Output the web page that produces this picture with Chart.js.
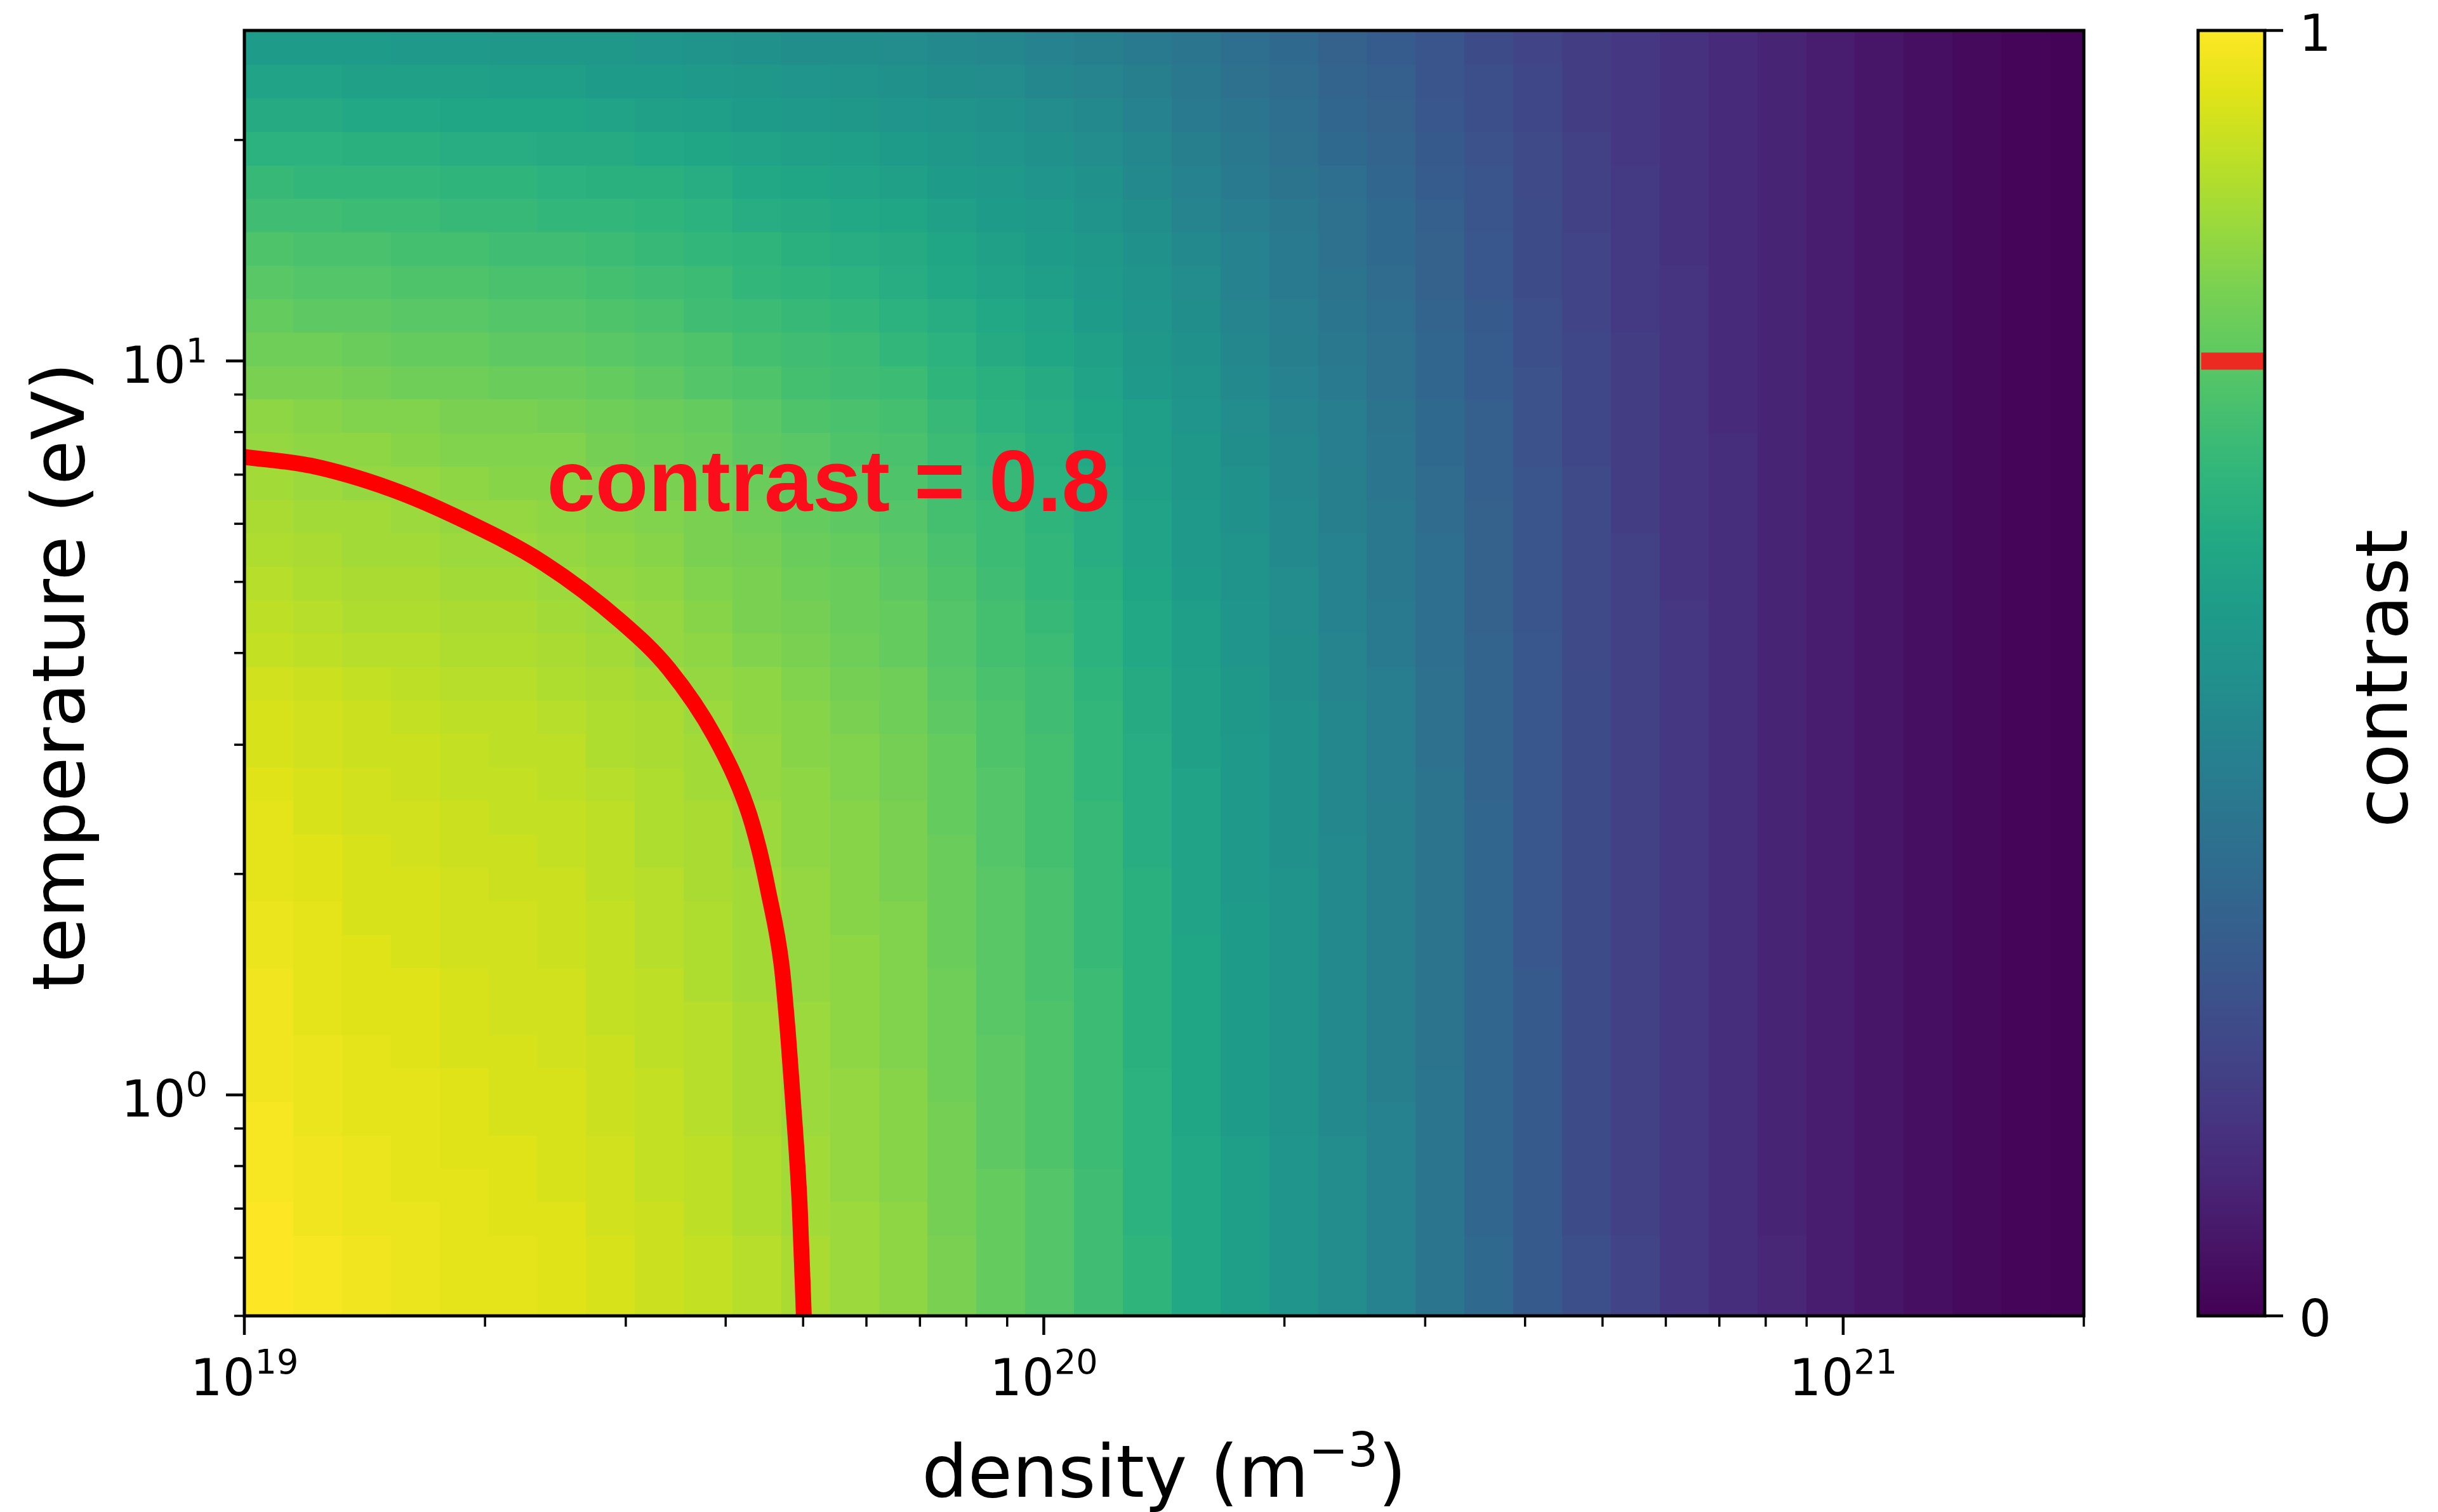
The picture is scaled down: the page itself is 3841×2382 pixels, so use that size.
<!DOCTYPE html>
<html>
<head>
<meta charset="utf-8">
<title>contrast map</title>
<script src="https://cdn.jsdelivr.net/npm/chart.js@4.4.0/dist/chart.umd.min.js"></script>
<style>
  html, body { margin: 0; padding: 0; background: #ffffff; }
  #wrap { position: relative; width: 3841px; height: 2382px; overflow: hidden; }
</style>
</head>
<body>
<div id="wrap"><canvas id="chart" width="3841" height="2382"></canvas></div>
<script>
// --- DATA ---
// cell edges of the map (density in m^-3, temperature in eV, top row first)
const densityEdges = [
  1.000e19, 1.151e19, 1.325e19, 1.525e19, 1.755e19, 2.020e19, 2.325e19, 2.675e19, 3.079e19, 3.544e19,
  4.079e19, 4.694e19, 5.403e19, 6.218e19, 7.156e19, 8.236e19, 9.480e19, 1.091e20, 1.256e20, 1.445e20,
  1.663e20, 1.915e20, 2.204e20, 2.536e20, 2.919e20, 3.360e20, 3.867e20, 4.450e20, 5.122e20, 5.895e20,
  6.785e20, 7.809e20, 8.988e20, 1.034e21, 1.190e21, 1.370e21, 1.577e21, 1.815e21, 2.000e21
];
const temperatureEdges = [
  28.2, 25.31, 22.79, 20.52, 18.47, 16.63, 14.98, 13.48, 12.14, 10.93,
  9.840, 8.861, 7.978, 7.183, 6.467, 5.823, 5.243, 4.721, 4.250, 3.826,
  3.445, 3.102, 2.793, 2.515, 2.264, 2.039, 1.836, 1.653, 1.488, 1.340,
  1.206, 1.086, 0.978, 0.880, 0.793, 0.714, 0.643, 0.579, 0.521, 0.5
];
// contrast per cell, one row per temperature band (hottest first), one value per density band
const contrast = [
  [0.55,0.55,0.55,0.54,0.54,0.53,0.53,0.53,0.52,0.51, 0.50,0.49,0.49,0.48,0.47,0.46,0.44,0.43,0.41,0.39, 0.36,0.34,0.31,0.29,0.26,0.23,0.20,0.18,0.16,0.14, 0.12,0.10,0.08,0.06,0.04,0.025,0.012,0.005],
  [0.58,0.58,0.57,0.57,0.57,0.56,0.56,0.55,0.55,0.54, 0.53,0.52,0.51,0.50,0.49,0.48,0.46,0.45,0.43,0.40, 0.37,0.35,0.32,0.30,0.26,0.24,0.21,0.18,0.16,0.14, 0.12,0.10,0.08,0.06,0.04,0.025,0.012,0.005],
  [0.61,0.61,0.60,0.60,0.59,0.59,0.59,0.58,0.57,0.56, 0.55,0.54,0.53,0.52,0.51,0.50,0.48,0.47,0.44,0.41, 0.39,0.36,0.33,0.31,0.27,0.24,0.21,0.18,0.16,0.14, 0.12,0.10,0.08,0.06,0.04,0.025,0.012,0.005],
  [0.64,0.64,0.63,0.63,0.62,0.62,0.61,0.61,0.60,0.59, 0.58,0.57,0.56,0.55,0.53,0.52,0.50,0.48,0.46,0.43, 0.40,0.37,0.34,0.32,0.28,0.25,0.22,0.19,0.16,0.14, 0.12,0.10,0.08,0.06,0.04,0.025,0.012,0.005],
  [0.67,0.66,0.66,0.66,0.65,0.65,0.64,0.63,0.63,0.62, 0.60,0.59,0.58,0.57,0.55,0.54,0.52,0.50,0.47,0.44, 0.41,0.38,0.36,0.33,0.29,0.26,0.22,0.19,0.17,0.14, 0.12,0.10,0.08,0.06,0.04,0.025,0.012,0.005],
  [0.69,0.69,0.68,0.68,0.67,0.67,0.66,0.66,0.65,0.64, 0.62,0.61,0.60,0.59,0.57,0.55,0.54,0.51,0.49,0.45, 0.42,0.40,0.37,0.34,0.30,0.26,0.23,0.19,0.17,0.14, 0.12,0.10,0.08,0.06,0.04,0.025,0.012,0.005],
  [0.72,0.71,0.71,0.70,0.70,0.69,0.69,0.68,0.67,0.66, 0.65,0.63,0.62,0.61,0.59,0.57,0.55,0.53,0.50,0.47, 0.44,0.41,0.37,0.34,0.31,0.27,0.23,0.20,0.17,0.14, 0.12,0.10,0.08,0.06,0.04,0.025,0.012,0.005],
  [0.74,0.73,0.73,0.72,0.72,0.71,0.71,0.70,0.69,0.68, 0.66,0.65,0.64,0.62,0.60,0.58,0.56,0.54,0.51,0.48, 0.44,0.41,0.38,0.35,0.31,0.27,0.23,0.20,0.17,0.15, 0.12,0.10,0.08,0.06,0.04,0.025,0.012,0.005],
  [0.76,0.75,0.75,0.74,0.74,0.73,0.73,0.72,0.71,0.69, 0.68,0.67,0.66,0.64,0.62,0.60,0.58,0.55,0.52,0.49, 0.45,0.42,0.39,0.36,0.32,0.28,0.24,0.20,0.17,0.15, 0.12,0.10,0.08,0.06,0.04,0.025,0.012,0.005],
  [0.78,0.78,0.77,0.76,0.76,0.75,0.75,0.74,0.73,0.72, 0.70,0.69,0.68,0.66,0.64,0.61,0.59,0.57,0.53,0.50, 0.46,0.43,0.40,0.37,0.33,0.29,0.24,0.21,0.18,0.15, 0.12,0.10,0.08,0.06,0.04,0.025,0.012,0.005],
  [0.80,0.80,0.79,0.78,0.78,0.77,0.77,0.76,0.75,0.73, 0.72,0.70,0.69,0.68,0.65,0.63,0.61,0.58,0.54,0.51, 0.47,0.44,0.41,0.37,0.33,0.29,0.25,0.21,0.18,0.15, 0.12,0.10,0.08,0.06,0.04,0.025,0.012,0.005],
  [0.83,0.82,0.81,0.81,0.80,0.80,0.79,0.78,0.77,0.76, 0.74,0.72,0.71,0.70,0.67,0.64,0.62,0.59,0.56,0.52, 0.48,0.45,0.42,0.38,0.34,0.30,0.25,0.21,0.18,0.15, 0.12,0.10,0.08,0.06,0.04,0.025,0.012,0.005],
  [0.84,0.83,0.83,0.82,0.81,0.81,0.81,0.79,0.78,0.77, 0.75,0.74,0.72,0.71,0.68,0.66,0.63,0.60,0.56,0.53, 0.49,0.46,0.42,0.39,0.34,0.30,0.25,0.21,0.18,0.15, 0.13,0.10,0.08,0.06,0.04,0.025,0.012,0.005],
  [0.86,0.85,0.84,0.84,0.83,0.82,0.82,0.81,0.80,0.78, 0.77,0.75,0.74,0.72,0.69,0.67,0.64,0.61,0.57,0.53, 0.50,0.46,0.43,0.39,0.35,0.30,0.26,0.22,0.18,0.15, 0.13,0.10,0.08,0.06,0.04,0.025,0.012,0.005],
  [0.87,0.86,0.86,0.85,0.84,0.84,0.83,0.82,0.81,0.80, 0.78,0.76,0.75,0.73,0.70,0.68,0.65,0.62,0.58,0.54, 0.50,0.47,0.43,0.40,0.35,0.31,0.26,0.22,0.18,0.15, 0.13,0.10,0.08,0.06,0.04,0.025,0.012,0.005],
  [0.88,0.87,0.86,0.86,0.85,0.85,0.84,0.83,0.82,0.80, 0.79,0.77,0.76,0.74,0.71,0.68,0.66,0.62,0.58,0.54, 0.51,0.47,0.44,0.40,0.36,0.31,0.26,0.22,0.19,0.15, 0.13,0.10,0.08,0.06,0.04,0.025,0.012,0.005],
  [0.89,0.88,0.87,0.87,0.86,0.86,0.85,0.84,0.83,0.81, 0.80,0.78,0.77,0.75,0.72,0.69,0.66,0.63,0.59,0.55, 0.51,0.48,0.44,0.40,0.36,0.31,0.26,0.22,0.19,0.15, 0.13,0.10,0.08,0.06,0.04,0.025,0.012,0.005],
  [0.90,0.89,0.88,0.88,0.87,0.87,0.86,0.85,0.84,0.82, 0.80,0.79,0.77,0.76,0.73,0.70,0.67,0.64,0.60,0.56, 0.52,0.48,0.44,0.41,0.36,0.31,0.26,0.22,0.19,0.16, 0.13,0.10,0.08,0.06,0.04,0.025,0.012,0.005],
  [0.91,0.90,0.89,0.89,0.88,0.88,0.87,0.86,0.84,0.83, 0.81,0.80,0.78,0.76,0.73,0.70,0.68,0.64,0.60,0.56, 0.52,0.49,0.45,0.41,0.36,0.32,0.27,0.22,0.19,0.16, 0.13,0.10,0.08,0.06,0.04,0.025,0.012,0.005],
  [0.93,0.92,0.91,0.90,0.89,0.89,0.88,0.87,0.86,0.84, 0.83,0.81,0.79,0.78,0.74,0.71,0.69,0.65,0.61,0.57, 0.53,0.49,0.45,0.42,0.37,0.32,0.27,0.23,0.19,0.16, 0.13,0.10,0.08,0.06,0.04,0.025,0.012,0.005],
  [0.94,0.93,0.92,0.91,0.90,0.90,0.89,0.88,0.87,0.85, 0.83,0.82,0.80,0.78,0.75,0.72,0.69,0.66,0.61,0.57, 0.53,0.50,0.46,0.42,0.37,0.32,0.27,0.23,0.19,0.16, 0.13,0.10,0.08,0.06,0.04,0.025,0.012,0.005],
  [0.94,0.93,0.92,0.92,0.91,0.90,0.90,0.88,0.87,0.86, 0.84,0.82,0.81,0.79,0.76,0.72,0.70,0.66,0.62,0.57, 0.54,0.50,0.46,0.42,0.37,0.32,0.27,0.23,0.19,0.16, 0.13,0.10,0.08,0.06,0.04,0.025,0.012,0.005],
  [0.95,0.94,0.93,0.92,0.91,0.91,0.90,0.89,0.88,0.86, 0.84,0.83,0.81,0.79,0.76,0.73,0.70,0.66,0.62,0.58, 0.54,0.50,0.46,0.42,0.38,0.32,0.27,0.23,0.19,0.16, 0.13,0.10,0.08,0.06,0.04,0.025,0.012,0.005],
  [0.96,0.94,0.93,0.93,0.92,0.91,0.91,0.90,0.88,0.87, 0.85,0.83,0.82,0.80,0.76,0.73,0.70,0.67,0.62,0.58, 0.54,0.50,0.46,0.43,0.38,0.33,0.27,0.23,0.19,0.16, 0.13,0.10,0.08,0.06,0.04,0.025,0.012,0.005],
  [0.96,0.95,0.94,0.93,0.92,0.92,0.91,0.90,0.88,0.87, 0.85,0.83,0.82,0.80,0.77,0.73,0.70,0.67,0.62,0.58, 0.54,0.50,0.47,0.43,0.38,0.33,0.27,0.23,0.19,0.16, 0.13,0.10,0.08,0.06,0.04,0.025,0.012,0.005],
  [0.96,0.95,0.94,0.94,0.93,0.92,0.92,0.90,0.89,0.87, 0.86,0.84,0.82,0.80,0.77,0.74,0.71,0.67,0.63,0.58, 0.54,0.51,0.47,0.43,0.38,0.33,0.27,0.23,0.19,0.16, 0.13,0.10,0.08,0.06,0.04,0.025,0.012,0.005],
  [0.97,0.96,0.94,0.94,0.93,0.93,0.92,0.91,0.89,0.88, 0.86,0.84,0.82,0.81,0.77,0.74,0.71,0.67,0.63,0.58, 0.55,0.51,0.47,0.43,0.38,0.33,0.27,0.23,0.19,0.16, 0.13,0.10,0.08,0.06,0.04,0.025,0.012,0.005],
  [0.97,0.96,0.95,0.94,0.93,0.93,0.92,0.91,0.89,0.88, 0.86,0.84,0.83,0.81,0.77,0.74,0.71,0.67,0.63,0.59, 0.55,0.51,0.47,0.43,0.38,0.33,0.27,0.23,0.19,0.16, 0.13,0.10,0.08,0.06,0.04,0.025,0.012,0.005],
  [0.98,0.96,0.95,0.95,0.94,0.93,0.93,0.91,0.90,0.88, 0.86,0.84,0.83,0.81,0.78,0.74,0.71,0.68,0.63,0.59, 0.55,0.51,0.47,0.43,0.38,0.33,0.28,0.23,0.19,0.16, 0.13,0.10,0.08,0.06,0.04,0.025,0.012,0.005],
  [0.98,0.96,0.95,0.95,0.94,0.93,0.93,0.91,0.90,0.89, 0.87,0.85,0.83,0.81,0.78,0.74,0.72,0.68,0.63,0.59, 0.55,0.51,0.47,0.43,0.38,0.33,0.28,0.23,0.19,0.16, 0.13,0.10,0.08,0.06,0.04,0.025,0.012,0.005],
  [0.98,0.97,0.96,0.95,0.94,0.94,0.93,0.92,0.90,0.89, 0.87,0.85,0.83,0.81,0.78,0.75,0.72,0.68,0.63,0.59, 0.55,0.51,0.47,0.43,0.38,0.33,0.28,0.23,0.19,0.16, 0.13,0.10,0.08,0.06,0.04,0.025,0.012,0.005],
  [0.98,0.97,0.96,0.96,0.95,0.94,0.94,0.92,0.91,0.89, 0.87,0.85,0.84,0.82,0.78,0.75,0.72,0.68,0.64,0.59, 0.55,0.51,0.47,0.43,0.39,0.33,0.28,0.23,0.19,0.16, 0.13,0.10,0.08,0.06,0.04,0.025,0.012,0.005],
  [0.99,0.97,0.96,0.96,0.95,0.94,0.94,0.92,0.91,0.89, 0.87,0.85,0.84,0.82,0.79,0.75,0.72,0.68,0.64,0.59, 0.55,0.51,0.47,0.44,0.39,0.33,0.28,0.23,0.19,0.16, 0.13,0.10,0.08,0.06,0.04,0.025,0.012,0.005],
  [0.99,0.98,0.97,0.96,0.95,0.95,0.94,0.93,0.91,0.90, 0.88,0.86,0.84,0.82,0.79,0.75,0.72,0.68,0.64,0.60, 0.56,0.52,0.48,0.44,0.39,0.33,0.28,0.23,0.19,0.16, 0.13,0.10,0.08,0.06,0.04,0.025,0.012,0.005],
  [0.99,0.98,0.97,0.96,0.96,0.95,0.94,0.93,0.91,0.90, 0.88,0.86,0.84,0.82,0.79,0.76,0.73,0.69,0.64,0.60, 0.56,0.52,0.48,0.44,0.39,0.33,0.28,0.23,0.19,0.16, 0.13,0.10,0.08,0.06,0.04,0.025,0.012,0.005],
  [1.00,0.98,0.97,0.97,0.96,0.95,0.95,0.93,0.92,0.90, 0.88,0.86,0.85,0.83,0.79,0.76,0.73,0.69,0.64,0.60, 0.56,0.52,0.48,0.44,0.39,0.33,0.28,0.23,0.19,0.16, 0.13,0.10,0.08,0.06,0.04,0.025,0.012,0.005],
  [1.00,0.99,0.98,0.97,0.96,0.96,0.95,0.94,0.92,0.91, 0.89,0.87,0.85,0.83,0.80,0.76,0.73,0.69,0.65,0.60, 0.56,0.52,0.48,0.44,0.39,0.34,0.28,0.24,0.20,0.16, 0.13,0.11,0.08,0.06,0.04,0.025,0.012,0.005],
  [1.00,0.99,0.98,0.97,0.96,0.96,0.95,0.94,0.92,0.91, 0.89,0.87,0.85,0.83,0.80,0.76,0.73,0.69,0.65,0.60, 0.56,0.52,0.48,0.44,0.39,0.34,0.28,0.24,0.20,0.16, 0.13,0.11,0.08,0.06,0.04,0.025,0.012,0.005],
  [1.00,0.99,0.98,0.97,0.96,0.96,0.95,0.94,0.92,0.91, 0.89,0.87,0.85,0.83,0.80,0.76,0.73,0.69,0.65,0.60, 0.56,0.52,0.48,0.44,0.39,0.34,0.28,0.24,0.20,0.16, 0.13,0.11,0.08,0.06,0.04,0.025,0.012,0.005]
];

// the red contour line
const contourDensity = [1.00e19, 1.21e19, 1.52e19, 1.86e19, 2.37e19, 2.97e19, 3.40e19, 3.88e19, 4.25e19, 4.40e19, 4.52e19, 4.70e19, 4.79e19, 4.85e19, 4.95e19, 5.01e19];
const contourTemperature = [7.4, 7.2, 6.7, 6.1, 5.3, 4.4, 3.8, 3.07, 2.47, 2.17, 1.90, 1.50, 1.20, 1.0, 0.71, 0.5];
const contourText = 'contrast = 0.8';
const contourTextAt = [2.39e19, 6.25];   // density, temperature of the text's left baseline
const colorbarMark = 0.743;              // where the contour level sits on the colorbar

// ticks
const xMajor = [1e19, 1e20, 1e21];
const xMajorExp = ['19', '20', '21'];
const xMinor = [2e19, 3e19, 4e19, 5e19, 6e19, 7e19, 8e19, 9e19, 2e20, 3e20, 4e20, 5e20, 6e20, 7e20, 8e20, 9e20, 2e21];
const yMajor = [1, 10];
const yMajorExp = ['0', '1'];
const yMinor = [0.5, 0.6, 0.7, 0.8, 0.9, 2, 3, 4, 5, 6, 7, 8, 9, 20];
const cbarTicks = [0, 1];
const cbarTickLabels = ['0', '1'];

// viridis colormap
const viridis = ['#440154', '#471365', '#482475', '#463480', '#414487', '#3b528b', '#355f8d',
  '#2f6c8e', '#2a788e', '#25848e', '#21918c', '#1e9c89', '#22a884', '#2fb47c', '#44bf70',
  '#5ec962', '#7ad151', '#9bd93c', '#bddf26', '#dfe318', '#fde725'];

// --- HELPERS ---
function hexRgb(h) {
    return [parseInt(h.slice(1, 3), 16), parseInt(h.slice(3, 5), 16), parseInt(h.slice(5, 7), 16)];
}
const viridisRgb = viridis.map(hexRgb);

function colorFor(v) {
    const t = Math.min(1, Math.max(0, v)) * (viridisRgb.length - 1);
    const i = Math.min(Math.floor(t), viridisRgb.length - 2);
    const f = t - i;
    const a = viridisRgb[i], b = viridisRgb[i + 1];
    return `rgb(${Math.round(a[0] + (b[0] - a[0]) * f)}, ${Math.round(a[1] + (b[1] - a[1]) * f)}, ${Math.round(a[2] + (b[2] - a[2]) * f)})`;
}

// draws pieces of text one after another: [text, font, rise]
function drawRuns(ctx, runs, x, y, align) {
    ctx.textAlign = 'left';
    ctx.textBaseline = 'alphabetic';
    let total = 0;
    const widths = runs.map(r => { ctx.font = r[1]; const w = ctx.measureText(r[0]).width; total += w; return w; });
    let left = x;
    if (align === 'center') left = x - total / 2;
    if (align === 'right') left = x - total;
    runs.forEach((r, i) => {
        ctx.font = r[1];
        ctx.fillText(r[0], left, y - r[2]);
        left += widths[i];
    });
}

const FONT = '"DejaVu Sans", "Noto Sans", sans-serif';
const tickFont = '80px ' + FONT;
const tickExpFont = '54px ' + FONT;
const labelFont = '114px ' + FONT;
const labelSupFont = '74px ' + FONT;

// colorbar box (pixels, outside the plot area)
const CB_LEFT = 3463, CB_RIGHT = 3568;

// --- PLUGINS ---
const heatmapPlugin = {
    id: 'heatmap',
    beforeDatasetsDraw(chart) {
        const { ctx, chartArea, scales } = chart;
        ctx.save();
        ctx.beginPath();
        ctx.rect(chartArea.left, chartArea.top, chartArea.right - chartArea.left, chartArea.bottom - chartArea.top);
        ctx.clip();
        for (let i = 0; i < contrast.length; i++) {
            const y0 = Math.round(scales.y.getPixelForValue(temperatureEdges[i]));
            const y1 = Math.round(scales.y.getPixelForValue(temperatureEdges[i + 1]));
            for (let j = 0; j < contrast[i].length; j++) {
                const x0 = Math.round(scales.x.getPixelForValue(densityEdges[j]));
                const x1 = Math.round(scales.x.getPixelForValue(densityEdges[j + 1]));
                ctx.fillStyle = colorFor(contrast[i][j]);
                ctx.fillRect(x0, y0, x1 - x0, y1 - y0);
            }
        }
        ctx.restore();
    },
    afterDatasetsDraw(chart) {
        const { ctx, scales } = chart;
        ctx.save();
        ctx.fillStyle = '#fc0d1b';
        ctx.font = 'bold 137px "Liberation Sans", Arial, sans-serif';
        ctx.textAlign = 'left';
        ctx.textBaseline = 'alphabetic';
        ctx.fillText(contourText, scales.x.getPixelForValue(contourTextAt[0]), scales.y.getPixelForValue(contourTextAt[1]));
        ctx.restore();
    }
};

const axesPlugin = {
    id: 'axesDecor',
    afterDraw(chart) {
        const { ctx, chartArea: a, scales } = chart;
        const xs = scales.x, ys = scales.y, cb = scales.cbar;
        ctx.save();
        ctx.strokeStyle = '#000';
        ctx.fillStyle = '#000';

        // ticks
        const tick = (x0, y0, x1, y1, w) => {
            ctx.lineWidth = w;
            ctx.beginPath(); ctx.moveTo(x0, y0); ctx.lineTo(x1, y1); ctx.stroke();
        };
        xMinor.forEach(v => { const x = xs.getPixelForValue(v); tick(x, a.bottom, x, a.bottom + 17, 3.5); });
        xMajor.forEach(v => { const x = xs.getPixelForValue(v); tick(x, a.bottom, x, a.bottom + 30, 4.5); });
        yMinor.forEach(v => { const y = ys.getPixelForValue(v); tick(a.left - 16, y, a.left, y, 3.5); });
        yMajor.forEach(v => { const y = ys.getPixelForValue(v); tick(a.left - 29, y, a.left, y, 4.5); });

        // frame
        ctx.lineWidth = 5;
        ctx.strokeRect(a.left, a.top, a.right - a.left, a.bottom - a.top);

        // tick labels
        xMajor.forEach((v, i) => {
            drawRuns(ctx, [['10', tickFont, 0], [xMajorExp[i], tickExpFont, 34]], xs.getPixelForValue(v), a.bottom + 125, 'center');
        });
        yMajor.forEach((v, i) => {
            drawRuns(ctx, [['10', tickFont, 0], [yMajorExp[i], tickExpFont, 32]], a.left - 58, ys.getPixelForValue(v) + 34, 'right');
        });

        // axis titles
        drawRuns(ctx, [['density (m', labelFont, 0], ['\u22123', labelSupFont, 48], [')', labelFont, 0]],
            (a.left + a.right) / 2, 2358, 'center');
        ctx.save();
        ctx.translate(132, 1066);
        ctx.rotate(-Math.PI / 2);
        drawRuns(ctx, [['temperature (eV)', labelFont, 0]], 0, 0, 'center');
        ctx.restore();

        // colorbar
        const cTop = cb.getPixelForValue(1), cBottom = cb.getPixelForValue(0);
        const grad = ctx.createLinearGradient(0, cBottom, 0, cTop);
        viridis.forEach((c, i) => grad.addColorStop(i / (viridis.length - 1), c));
        ctx.fillStyle = grad;
        ctx.fillRect(CB_LEFT, cTop, CB_RIGHT - CB_LEFT, cBottom - cTop);
        const ym = cb.getPixelForValue(colorbarMark);
        ctx.fillStyle = '#ec2a22';
        ctx.fillRect(CB_LEFT + 5, ym - 13, CB_RIGHT - CB_LEFT - 5, 27);
        ctx.strokeStyle = '#000';
        ctx.lineWidth = 5;
        ctx.strokeRect(CB_LEFT, cTop, CB_RIGHT - CB_LEFT, cBottom - cTop);
        ctx.fillStyle = '#000';
        cbarTicks.forEach((v, i) => {
            const y = cb.getPixelForValue(v);
            tick(CB_RIGHT, y, CB_RIGHT + 29, y, 4.5);
            drawRuns(ctx, [[cbarTickLabels[i], tickFont, 0]], CB_RIGHT + 54, y + 32, 'left');
        });
        ctx.save();
        ctx.translate(3792, 1069);
        ctx.rotate(-Math.PI / 2);
        drawRuns(ctx, [['contrast', labelFont, 0]], 0, 0, 'center');
        ctx.restore();

        ctx.restore();
    }
};

// --- CHART ---
const contourPoints = contourDensity.map((d, i) => ({ x: d, y: contourTemperature[i] }));

new Chart(document.getElementById('chart').getContext('2d'), {
    type: 'scatter',
    data: {
        datasets: [{
            data: contourPoints,
            showLine: true,
            borderColor: '#ff0000',
            borderWidth: 25,
            borderCapStyle: 'butt',
            borderJoinStyle: 'round',
            cubicInterpolationMode: 'monotone',
            pointRadius: 0,
            clip: 0
        }]
    },
    options: {
        responsive: false,
        animation: false,
        devicePixelRatio: 1,
        layout: { padding: { left: 385, top: 48, right: 558, bottom: 309 } },
        plugins: { legend: { display: false }, tooltip: { enabled: false } },
        events: [],
        scales: {
            x: { type: 'logarithmic', min: 1e19, max: 2e21, bounds: 'data', display: false },
            y: { type: 'logarithmic', min: 0.5, max: 28.2, bounds: 'data', display: false },
            cbar: { type: 'linear', axis: 'y', position: 'right', min: 0, max: 1, display: false }
        }
    },
    plugins: [heatmapPlugin, axesPlugin]
});
</script>
</body>
</html>
